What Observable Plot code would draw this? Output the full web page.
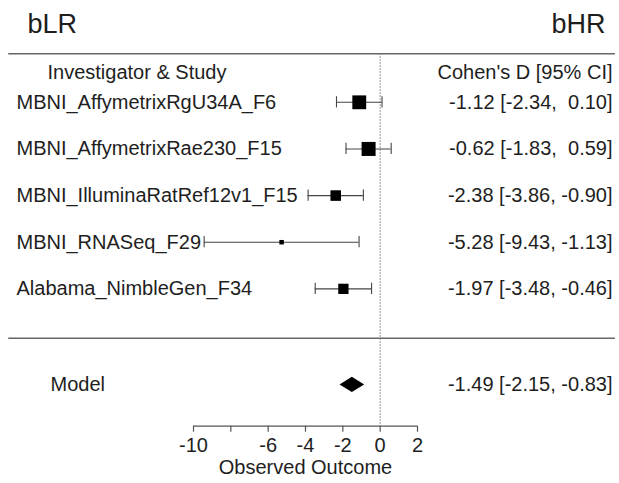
<!DOCTYPE html>
<html>
<head>
<meta charset="utf-8">
<script src="https://cdn.jsdelivr.net/npm/d3@7"></script>
<script src="https://cdn.jsdelivr.net/npm/@observablehq/plot@0.6"></script>
<style>
  body { margin: 0; background: #fff; }
  #chart svg { display: block; }
</style>
</head>
<body>
<div id="chart"></div>
<script>
// ---- data ----
const studies = [
  "MBNI_AffymetrixRgU34A_F6",
  "MBNI_AffymetrixRae230_F15",
  "MBNI_IlluminaRatRef12v1_F15",
  "MBNI_RNASeq_F29",
  "Alabama_NimbleGen_F34"
];
const estimates = [-1.12, -0.62, -2.38, -5.28, -1.97];
const lowerCI   = [-2.34, -1.83, -3.86, -9.43, -3.48];
const upperCI   = [ 0.10,  0.59, -0.90, -1.13, -0.46];

const modelLabel = "Model";
const modelEstimate = -1.49;
const modelLower = -2.15;
const modelUpper = -0.83;

const tickValues = [-10, -8, -6, -4, -2, 0, 2];
const tickLabels = ["-10", "", "-6", "-4", "-2", "0", "2"];
const headerLeft = "Investigator & Study";
const headerRight = "Cohen's D [95% CI]";
const groupLeft = "bLR";
const groupRight = "bHR";
const axisTitle = "Observed Outcome";

// ---- layout rows (metafor style: k..1 for studies, -1 for model) ----
const k = studies.length;
const rows = studies.map((s, i) => ({
  study: s,
  est: estimates[i],
  lo: lowerCI[i],
  hi: upperCI[i],
  row: k - i,
  w: 1 / Math.pow((upperCI[i] - lowerCI[i]) / 3.92, 2)
}));
const modelRow = -1.06;
const headerRow = 5.63;
const topRow = 6.04;
const sepRow = -0.06;
const axisRow = -1.945;

const fmt = v => v.toFixed(2).padStart(5, "\u00A0");
const ciText = d => `${fmt(d.est)} [${fmt(d.lo)}, ${fmt(d.hi)}]`;
const model = {label: modelLabel, est: modelEstimate, lo: modelLower, hi: modelUpper, row: modelRow};
const diamond = [
  {y: model.row + 0.165, x1: model.est, x2: model.est},
  {y: model.row, x1: model.lo, x2: model.hi},
  {y: model.row - 0.165, x1: model.est, x2: model.est}
];

const FS = 20;
const ink = "#1e1e1e";

const chart = Plot.plot({
  width: 619,
  height: 483,
  marginLeft: 16,
  marginRight: 7,
  marginTop: 0,
  marginBottom: 483 - 425.7,
  x: {domain: [-10, 2], range: [193, 417]},
  y: {domain: [topRow, axisRow], range: [53.3, 425.7], axis: null},
  r: {type: "linear", domain: d3.extent(rows, d => d.w), range: [2.54, 7.9]},
  style: {
    fontFamily: "'Liberation Sans', Arial, Helvetica, sans-serif",
    fontSize: FS + "px",
    color: ink,
    background: "white"
  },
  marks: [
    // separator lines
    Plot.ruleY([topRow, sepRow], {x1: -19.9, x2: 12.6, stroke: "#666", strokeWidth: 1.4}),
    // reference line at 0
    Plot.ruleX([0], {y1: topRow, y2: axisRow, stroke: "#777", strokeWidth: 1, strokeDasharray: "1.5,1.5"}),
    // axis line + ticks
    Plot.ruleY([axisRow], {x1: tickValues[0], x2: tickValues[tickValues.length - 1], stroke: "#555", strokeWidth: 1.2}),
    Plot.axisX({
      anchor: "bottom",
      ticks: tickValues,
      tickSize: 6,
      tickPadding: 6,
      tickFormat: d => tickLabels[tickValues.indexOf(d)],
      fontSize: FS,
      stroke: "#555",
      strokeWidth: 1.2,
      label: null
    }),
    Plot.text([axisTitle], {x: d3.mean([tickValues[0], tickValues[tickValues.length - 1]]), frameAnchor: "bottom", dy: 48, fontSize: FS, fill: ink}),
    // error bars
    Plot.ruleY(rows, {y: "row", x1: "lo", x2: "hi", stroke: "#444", strokeWidth: 1.1}),
    Plot.ruleX(rows, {x: "lo", y1: d => d.row + 0.12, y2: d => d.row - 0.12, stroke: "#444", strokeWidth: 1.1}),
    Plot.ruleX(rows, {x: "hi", y1: d => d.row + 0.12, y2: d => d.row - 0.12, stroke: "#444", strokeWidth: 1.1}),
    // point estimates
    Plot.dot(rows, {x: "est", y: "row", r: "w", symbol: "square", fill: "black", stroke: null}),
    // summary diamond
    Plot.areaX(diamond, {y: "y", x1: "x1", x2: "x2", fill: "black", curve: "linear"}),
    // study labels
    Plot.text(rows, {text: "study", y: "row", frameAnchor: "left", textAnchor: "start", fill: ink}),
    Plot.text(rows, {text: ciText, y: "row", frameAnchor: "right", textAnchor: "end", fill: ink}),
    Plot.text([model], {text: "label", y: "row", frameAnchor: "left", dx: 34, textAnchor: "start", fill: ink}),
    Plot.text([model], {text: ciText, y: "row", frameAnchor: "right", textAnchor: "end", fill: ink}),
    // headers
    Plot.text([headerLeft], {y: headerRow, frameAnchor: "left", dx: 31, textAnchor: "start", fill: ink}),
    Plot.text([headerRight], {y: headerRow, frameAnchor: "right", textAnchor: "end", fill: ink}),
    Plot.text([groupLeft], {frameAnchor: "top-left", dx: 11, dy: 13, lineAnchor: "top", textAnchor: "start", fontSize: 27, fill: ink}),
    Plot.text([groupRight], {frameAnchor: "top-right", dx: -7, dy: 13, lineAnchor: "top", textAnchor: "end", fontSize: 27, fill: ink})
  ]
});

document.getElementById("chart").appendChild(chart);
</script>
</body>
</html>
